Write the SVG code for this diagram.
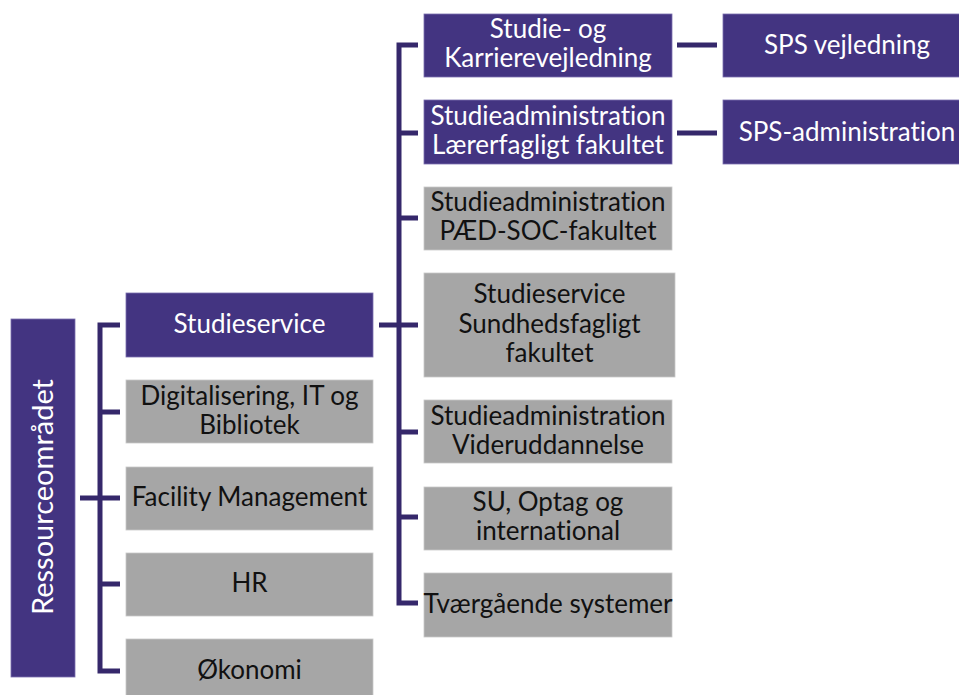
<svg xmlns="http://www.w3.org/2000/svg" width="959" height="695" viewBox="0 0 959 695">
<style>
.p{fill:#433481;stroke:#7a6fae;stroke-width:0.8}
.g{fill:#a6a6a6;stroke:#c8c8c8;stroke-width:0.8}
.tw{fill:#ffffff;font-family:Lato,"Open Sans",sans-serif;font-size:26px;text-anchor:middle;font-variant-ligatures:none}
.tb{fill:#111111;font-family:Lato,"Open Sans",sans-serif;font-size:26px;text-anchor:middle;font-variant-ligatures:none}
.c{fill:none;stroke:#35286b;stroke-width:5;stroke-linejoin:miter;stroke-linecap:butt}
</style>
<rect width="959" height="695" fill="#ffffff"/>
<g id="connectors">
<path class="c" d="M80,498 H100"/>
<path class="c" d="M120,325 H100 V671 H120"/>
<path class="c" d="M100,412 H120 M100,498 H120 M100,584 H120"/>
<path class="c" d="M379,325 H399"/>
<path class="c" d="M418,45 H399 V603 H418"/>
<path class="c" d="M399,133 H418 M399,218 H418 M399,325 H418 M399,432 H418 M399,517 H418"/>
<path class="c" d="M677,45 H717 M677,133 H717"/>
</g>
<g id="ressourceomraadet">
<rect class="p" x="11" y="319" width="64" height="358"/>
<text class="tw" style="font-size:29px" transform="translate(53,497) rotate(-90)">Ressourceområdet</text>
</g>
<g id="studieservice">
<rect class="p" x="126" y="293" width="247" height="64"/>
<text class="tw" x="249.5" y="333">Studieservice</text>
</g>
<g id="digitalisering">
<rect class="g" x="126" y="380" width="247" height="63"/>
<text class="tb" x="249.5" y="405">Digitalisering, IT og</text>
<text class="tb" x="249.5" y="434">Bibliotek</text>
</g>
<g id="facility">
<rect class="g" x="126" y="467" width="247" height="63"/>
<text class="tb" x="249.5" y="506">Facility Management</text>
</g>
<g id="hr">
<rect class="g" x="126" y="553" width="247" height="63"/>
<text class="tb" x="249.5" y="592">HR</text>
</g>
<g id="oekonomi">
<rect class="g" x="126" y="639" width="247" height="64"/>
<text class="tb" x="249.5" y="679">Økonomi</text>
</g>
<g id="studie-karriere">
<rect class="p" x="424" y="14" width="248" height="63"/>
<text class="tw" x="548" y="38">Studie- og</text>
<text class="tw" x="548" y="67">Karrierevejledning</text>
</g>
<g id="studieadm-laerer">
<rect class="p" x="424" y="100" width="248" height="64"/>
<text class="tw" x="548" y="125">Studieadministration</text>
<text class="tw" x="548" y="154">Lærerfagligt fakultet</text>
</g>
<g id="studieadm-paed">
<rect class="g" x="424" y="187" width="248" height="63"/>
<text class="tb" x="548" y="211">Studieadministration</text>
<text class="tb" x="548" y="240">PÆD-SOC-fakultet</text>
</g>
<g id="studieservice-sundhed">
<rect class="g" x="424" y="273" width="251" height="104"/>
<text class="tb" x="549.5" y="303">Studieservice</text>
<text class="tb" x="549.5" y="333">Sundhedsfagligt</text>
<text class="tb" x="549.5" y="362">fakultet</text>
</g>
<g id="studieadm-videre">
<rect class="g" x="424" y="400" width="248" height="63"/>
<text class="tb" x="548" y="425">Studieadministration</text>
<text class="tb" x="548" y="454">Videruddannelse</text>
</g>
<g id="su-optag">
<rect class="g" x="424" y="487" width="248" height="63"/>
<text class="tb" x="548" y="511">SU, Optag og</text>
<text class="tb" x="548" y="540">international</text>
</g>
<g id="tvaergaaende">
<rect class="g" x="424" y="573" width="248" height="64"/>
<text class="tb" x="548" y="613">Tværgående systemer</text>
</g>
<g id="sps-vejledning">
<rect class="p" x="723" y="14" width="248" height="63"/>
<text class="tw" x="847" y="54">SPS vejledning</text>
</g>
<g id="sps-administration">
<rect class="p" x="723" y="100" width="248" height="64"/>
<text class="tw" x="847" y="141">SPS-administration</text>
</g>
</svg>
